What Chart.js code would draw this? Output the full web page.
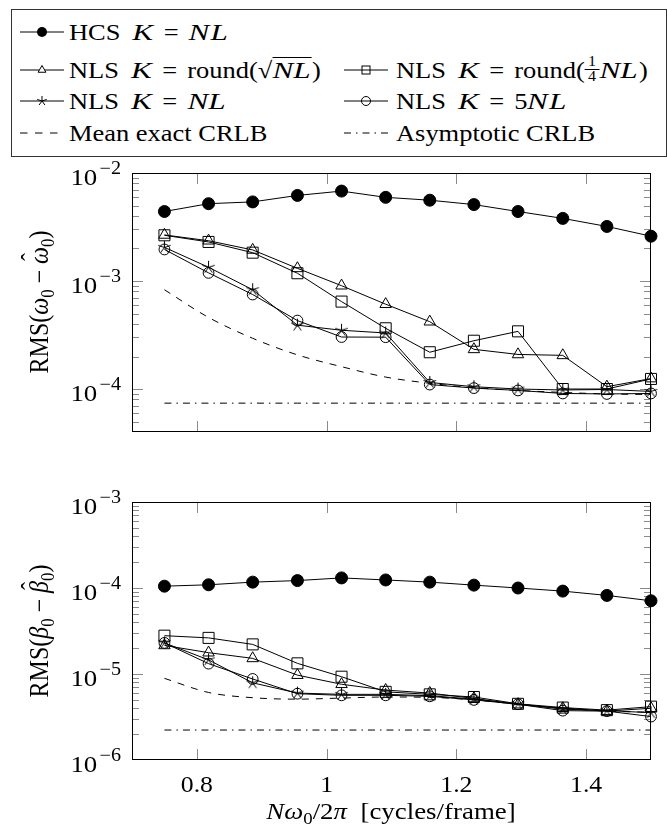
<!DOCTYPE html>
<html>
<head>
<meta charset="utf-8">
<script src="https://cdn.jsdelivr.net/npm/chart.js@4.4.1/dist/chart.umd.min.js"></script>
<style>
  html, body { margin: 0; padding: 0; background: #fff; }
  #page { position: relative; width: 667px; height: 834px; overflow: hidden;
          font-family: "Liberation Serif", serif; color: #000; }
  #page canvas { position: absolute; left: 0; }
  #legendBox { position: absolute; left: 11px; top: 9px; width: 656px; height: 148px;
               border: 1px solid #333; box-sizing: border-box; }
  .smp { position: absolute; overflow: visible; }
  .lt { position: absolute; font-size: 23px; line-height: 23px; white-space: nowrap;
        transform: scaleX(1.15); transform-origin: 0 0; }
  .lt i { font-style: italic; display: inline-block; transform: scaleX(1.18);
          transform-origin: 0 50%; margin-right: 0.14em; }
  .lt i.k { margin-left: 0.2em; }
  .eq { margin: 0 0.38em; }
  .ov { border-top: 1px solid #000; padding-top: 0px; }
  .frac { display: inline-block; position: relative; width: 0.55em; height: 0.55em; }
  .frac .num, .frac .den { position: absolute; left: 0; width: 100%; text-align: center;
                           font-size: 14px; line-height: 14px; }
  .frac .num { top: -10px; border-bottom: 1px solid #000; }
  .frac .den { top: 5px; }
  .title { position: absolute; font-size: 24px; line-height: 24px; white-space: nowrap; }
  .title i { font-style: italic; }
  .sub { position: relative; top: 0.28em; font-size: 0.7em; }
  .hat { position: relative; display: inline-block; }
  .hat .hc { position: absolute; left: 0.12em; top: -0.28em; font-style: normal; }
</style>
</head>
<body>
<div id="page">
  <div id="legendBox"></div>

  <!-- legend row 1 -->
  <svg class="smp" style="left:20px;top:22px" width="44" height="20">
    <line x1="0" y1="10" x2="44" y2="10" stroke="#000" stroke-width="1"/>
    <circle cx="22" cy="10" r="5" fill="#000"/>
  </svg>
  <div class="lt" style="left:69px;top:20.7px">HCS <i class="k">K</i><span class="eq">=</span><i>N</i><i>L</i></div>

  <!-- legend row 2 -->
  <svg class="smp" style="left:20px;top:60px" width="44" height="20">
    <line x1="0" y1="10" x2="44" y2="10" stroke="#000" stroke-width="1"/>
    <polygon points="22,5.5 25.9,12.25 18.1,12.25" fill="#fff" stroke="#000" stroke-width="1"/>
  </svg>
  <div class="lt" style="left:69px;top:58.7px">NLS <i class="k">K</i><span class="eq">=</span>round(√<span class="ov"><i>N</i><i>L</i></span>)</div>

  <svg class="smp" style="left:344px;top:60px" width="44" height="20">
    <line x1="0" y1="10" x2="44" y2="10" stroke="#000" stroke-width="1"/>
    <rect x="18" y="6" width="8" height="8" fill="none" stroke="#000" stroke-width="1"/>
  </svg>
  <div class="lt" style="left:396px;top:58.7px">NLS <i class="k">K</i><span class="eq">=</span>round(<span class="frac"><span class="num">1</span><span class="den">4</span></span><i>N</i><i>L</i>)</div>

  <!-- legend row 3 -->
  <svg class="smp" style="left:20px;top:91px" width="44" height="20">
    <line x1="0" y1="10" x2="44" y2="10" stroke="#000" stroke-width="1"/>
    <path d="M22 10 L22 5 M22 10 L26.76 8.45 M22 10 L24.94 14.05 M22 10 L19.06 14.05 M22 10 L17.24 8.45" stroke="#000" stroke-width="1" fill="none"/>
  </svg>
  <div class="lt" style="left:69px;top:89.7px">NLS <i class="k">K</i><span class="eq">=</span><i>N</i><i>L</i></div>

  <svg class="smp" style="left:344px;top:91px" width="44" height="20">
    <line x1="0" y1="10" x2="44" y2="10" stroke="#000" stroke-width="1"/>
    <circle cx="22" cy="10" r="4.5" fill="none" stroke="#000" stroke-width="1"/>
  </svg>
  <div class="lt" style="left:396px;top:89.7px">NLS <i class="k">K</i><span class="eq">=</span>5<i>N</i><i>L</i></div>

  <!-- legend row 4 -->
  <svg class="smp" style="left:20px;top:123px" width="44" height="20">
    <line x1="0" y1="10" x2="44" y2="10" stroke="#000" stroke-width="1" stroke-dasharray="7.5 7.5"/>
  </svg>
  <div class="lt" style="left:69px;top:121.7px">Mean exact CRLB</div>

  <svg class="smp" style="left:344px;top:123px" width="44" height="20">
    <line x1="0" y1="10" x2="44" y2="10" stroke="#000" stroke-width="1" stroke-dasharray="7 5 1.5 5"/>
  </svg>
  <div class="lt" style="left:396px;top:121.7px">Asymptotic CRLB</div>

  <canvas id="omegaChart" width="667" height="300" style="top:160px"></canvas>
  <canvas id="betaChart" width="667" height="374" style="top:460px"></canvas>

  <div class="title" style="left:41px;top:302px;transform:translate(-50%,-50%) scaleX(1.12) rotate(-90deg)">RMS(<i>ω</i><span class="sub">0</span> − <span class="hat"><i>ω</i><span class="hc">ˆ</span></span><span class="sub">0</span>)</div>
  <div class="title" style="left:41px;top:631px;transform:translate(-50%,-50%) scaleX(1.12) rotate(-90deg)">RMS(<i>β</i><span class="sub">0</span> − <span class="hat"><i>β</i><span class="hc">ˆ</span></span><span class="sub">0</span>)</div>
  <div class="title" style="left:391px;top:812px;transform:translate(-50%,-50%) scaleX(1.12)"><i>Nω</i><span class="sub">0</span>/2<i>π</i>&nbsp;&nbsp;[cycles/frame]</div>
</div>

<script>
// Frequency grid shared by both panels (cycles/frame)
const xVals = [0.75, 0.818, 0.886, 0.955, 1.023, 1.091, 1.159, 1.227, 1.295, 1.364, 1.432, 1.5];

// RMS error of the frequency estimate
const hcsOmega     = [4.4e-3, 5.2e-3, 5.4e-3, 6.2e-3, 6.8e-3, 5.95e-3, 5.6e-3, 5.1e-3, 4.4e-3, 3.8e-3, 3.2e-3, 2.6e-3];
const sqrtOmega    = [2.67e-3, 2.36e-3, 1.94e-3, 1.31e-3, 9.05e-4, 6.1e-4, 4.2e-4, 2.33e-4, 2.09e-4, 2.05e-4, 1.05e-4, 1.25e-4];
const quarterOmega = [2.65e-3, 2.3e-3, 1.83e-3, 1.18e-3, 6.45e-4, 3.65e-4, 2.19e-4, 2.8e-4, 3.42e-4, 1.0e-4, 1.0e-4, 1.24e-4];
const nlOmega      = [2.05e-3, 1.34e-3, 8.3e-4, 3.9e-4, 3.5e-4, 3.3e-4, 1.15e-4, 1.05e-4, 1.0e-4, 9.8e-5, 9.9e-5, 9.5e-5];
const fiveOmega    = [1.96e-3, 1.19e-3, 7.5e-4, 4.3e-4, 3.03e-4, 3.02e-4, 1.1e-4, 1.02e-4, 9.7e-5, 9.1e-5, 9.0e-5, 9.1e-5];
const crlbOmega    = [8.3e-4, 4.6e-4, 2.95e-4, 2.07e-4, 1.61e-4, 1.29e-4, 1.13e-4, 1.03e-4, 9.7e-5, 9.3e-5, 9.0e-5, 8.9e-5];
const asymOmega    = [7.4e-5, 7.4e-5, 7.4e-5, 7.4e-5, 7.4e-5, 7.4e-5, 7.4e-5, 7.4e-5, 7.4e-5, 7.4e-5, 7.4e-5, 7.4e-5];

// RMS error of the damping estimate
const hcsBeta     = [1.05e-4, 1.09e-4, 1.17e-4, 1.22e-4, 1.31e-4, 1.24e-4, 1.17e-4, 1.08e-4, 1.0e-4, 9.2e-5, 8.2e-5, 7.1e-5];
const sqrtBeta    = [2.15e-5, 1.77e-5, 1.52e-5, 9.7e-6, 7.6e-6, 6.5e-6, 6.0e-6, 5.2e-6, 4.4e-6, 4.0e-6, 3.7e-6, 4.0e-6];
const quarterBeta = [2.79e-5, 2.63e-5, 2.21e-5, 1.33e-5, 9.3e-6, 6.2e-6, 5.8e-6, 5.4e-6, 4.5e-6, 4.07e-6, 3.8e-6, 4.17e-6];
const nlBeta      = [2.3e-5, 1.46e-5, 7.9e-6, 6.0e-6, 5.8e-6, 5.8e-6, 5.6e-6, 5.1e-6, 4.5e-6, 3.9e-6, 3.75e-6, 3.55e-6];
const fiveBeta    = [2.3e-5, 1.32e-5, 8.75e-6, 5.9e-6, 5.65e-6, 5.65e-6, 5.5e-6, 5.0e-6, 4.45e-6, 3.75e-6, 3.7e-6, 3.2e-6];
const crlbBeta    = [8.9e-6, 6.1e-6, 5.3e-6, 5.1e-6, 5.25e-6, 5.4e-6, 5.35e-6, 5.0e-6, 4.45e-6, 4.0e-6, 3.7e-6, 3.6e-6];
const asymBeta    = [2.23e-6, 2.23e-6, 2.23e-6, 2.23e-6, 2.23e-6, 2.23e-6, 2.23e-6, 2.23e-6, 2.23e-6, 2.23e-6, 2.23e-6, 2.23e-6];

// Axis ranges and ticks
const xRange = [0.7, 1.5];
const xTickVals = [0.8, 1, 1.2, 1.4];
const xTickLabels = ['0.8', '1', '1.2', '1.4'];
const omegaRange = [4e-5, 1e-2];
const omegaDecades = [1e-4, 1e-3, 1e-2];
const omegaExps = ['−4', '−3', '−2'];
const betaRange = [1e-6, 1e-3];
const betaDecades = [1e-6, 1e-5, 1e-4, 1e-3];
const betaExps = ['−6', '−5', '−4', '−3'];

const TEXT_SX = 1.12;
const FONT = '"Liberation Serif", serif';

// five-spoke star marker
function makeStar() {
  const c = document.createElement('canvas');
  c.width = 15; c.height = 15;
  const g = c.getContext('2d');
  g.strokeStyle = '#000'; g.lineWidth = 1;
  g.beginPath();
  for (let k = 0; k < 5; k++) {
    const ang = -Math.PI / 2 + k * 2 * Math.PI / 5;
    g.moveTo(7.5, 7.5);
    g.lineTo(7.5 + 6.5 * Math.cos(ang), 7.5 + 6.5 * Math.sin(ang));
  }
  g.stroke();
  return c;
}
const starMark = makeStar();

// frame, inward ticks and tick labels in the pgfplots style
const pgfAxes = {
  id: 'pgfAxes',
  beforeDatasetsDraw(chart, _args, o) {
    const { ctx, chartArea: a, scales: { x, y } } = chart;
    ctx.save();
    ctx.strokeStyle = '#8a8a8a';
    ctx.lineWidth = 1;
    ctx.beginPath();
    o.xTicks.forEach(v => {
      const px = Math.round(x.getPixelForValue(v)) + 0.5;
      ctx.moveTo(px, a.top); ctx.lineTo(px, a.top + 11);
      ctx.moveTo(px, a.bottom); ctx.lineTo(px, a.bottom - 11);
    });
    const [lo, hi] = o.yRange;
    const ytick = (v, len) => {
      if (v < lo * 1.001 || v > hi * 1.001) return;
      const py = Math.round(y.getPixelForValue(v)) + 0.5;
      ctx.moveTo(a.left, py); ctx.lineTo(a.left + len, py);
      ctx.moveTo(a.right, py); ctx.lineTo(a.right - len, py);
    };
    const first = o.decades[0] / 10;
    [first, ...o.decades].forEach(d => {
      for (let m = 2; m <= 9; m++) ytick(m * d, 7);
    });
    o.decades.forEach(d => ytick(d, 11));
    ctx.stroke();
    ctx.restore();
  },
  afterDatasetsDraw(chart, _args, o) {
    const { ctx, chartArea: a, scales: { x, y } } = chart;
    ctx.save();
    ctx.strokeStyle = '#000';
    ctx.lineWidth = 1;
    ctx.strokeRect(a.left + 0.5, a.top + 0.5, a.right - a.left - 1, a.bottom - a.top - 1);
    ctx.fillStyle = '#000';
    ctx.textBaseline = 'alphabetic';
    ctx.textAlign = 'left';
    o.decades.forEach((d, i) => {
      const py = y.getPixelForValue(d);
      ctx.save();
      ctx.translate(a.left - 11, py);
      ctx.scale(TEXT_SX, 1);
      ctx.font = '18px ' + FONT;
      const sup = o.exps[i];
      const ws = ctx.measureText(sup).width;
      ctx.fillText(sup, -ws, 1);
      ctx.font = '24px ' + FONT;
      const wb = ctx.measureText('10').width;
      ctx.fillText('10', -ws - wb - 2, 12);
      ctx.restore();
    });
    if (o.xLabels) {
      o.xTicks.forEach((v, i) => {
        const px = x.getPixelForValue(v);
        ctx.save();
        ctx.translate(px, a.bottom + 32);
        ctx.scale(TEXT_SX, 1);
        ctx.font = '23px ' + FONT;
        ctx.textAlign = 'center';
        ctx.fillText(o.xLabels[i], 0, 0);
        ctx.restore();
      });
    }
    ctx.restore();
  }
};

function pts(arr) { return xVals.map((xv, i) => ({ x: xv, y: arr[i] })); }

function seriesSet(hcs, sqrtK, quarterK, nlK, fiveK, crlb, asym) {
  const base = { borderColor: '#000', borderWidth: 1, clip: false, fill: false };
  return [
    Object.assign({}, base, { label: 'Asymptotic CRLB', data: pts(asym), pointRadius: 0, borderDash: [7, 5, 1.5, 5] }),
    Object.assign({}, base, { label: 'Mean exact CRLB', data: pts(crlb), pointRadius: 0, borderDash: [7, 7], cubicInterpolationMode: 'monotone' }),
    Object.assign({}, base, { label: 'NLS K = 5NL', data: pts(fiveK), pointStyle: 'circle', pointRadius: 5.4,
      pointBackgroundColor: 'rgba(0,0,0,0)', pointBorderColor: '#000', pointBorderWidth: 1 }),
    Object.assign({}, base, { label: 'NLS K = NL', data: pts(nlK), pointStyle: starMark, pointRadius: 6 }),
    Object.assign({}, base, { label: 'NLS K = round(NL/4)', data: pts(quarterK), pointStyle: 'rect', pointRadius: 7.8,
      pointBackgroundColor: 'rgba(0,0,0,0)', pointBorderColor: '#000', pointBorderWidth: 1 }),
    Object.assign({}, base, { label: 'NLS K = round(sqrt(NL))', data: pts(sqrtK), pointStyle: 'triangle', pointRadius: 6.6,
      pointBackgroundColor: 'rgba(0,0,0,0)', pointBorderColor: '#000', pointBorderWidth: 1 }),
    Object.assign({}, base, { label: 'HCS K = NL', data: pts(hcs), pointStyle: 'circle', pointRadius: 6,
      pointBackgroundColor: '#000', pointBorderColor: '#000', pointBorderWidth: 1 })
  ];
}

function makePanel(id, datasets, yRange, decades, exps, padding, xLabels) {
  return new Chart(document.getElementById(id), {
    type: 'line',
    data: { datasets },
    options: {
      responsive: false,
      animation: false,
      devicePixelRatio: 1,
      layout: { padding },
      scales: {
        x: { type: 'linear', min: xRange[0], max: xRange[1], display: false },
        y: { type: 'logarithmic', min: yRange[0], max: yRange[1], display: false }
      },
      plugins: {
        legend: { display: false },
        tooltip: { enabled: false },
        pgfAxes: { xTicks: xTickVals, xLabels, yRange, decades, exps }
      }
    },
    plugins: [pgfAxes]
  });
}

makePanel('omegaChart',
  seriesSet(hcsOmega, sqrtOmega, quarterOmega, nlOmega, fiveOmega, crlbOmega, asymOmega),
  omegaRange, omegaDecades, omegaExps,
  { left: 132, right: 16, top: 13, bottom: 28 }, null);

makePanel('betaChart',
  seriesSet(hcsBeta, sqrtBeta, quarterBeta, nlBeta, fiveBeta, crlbBeta, asymBeta),
  betaRange, betaDecades, betaExps,
  { left: 132, right: 16, top: 42, bottom: 74 }, xTickLabels);
</script>
</body>
</html>
